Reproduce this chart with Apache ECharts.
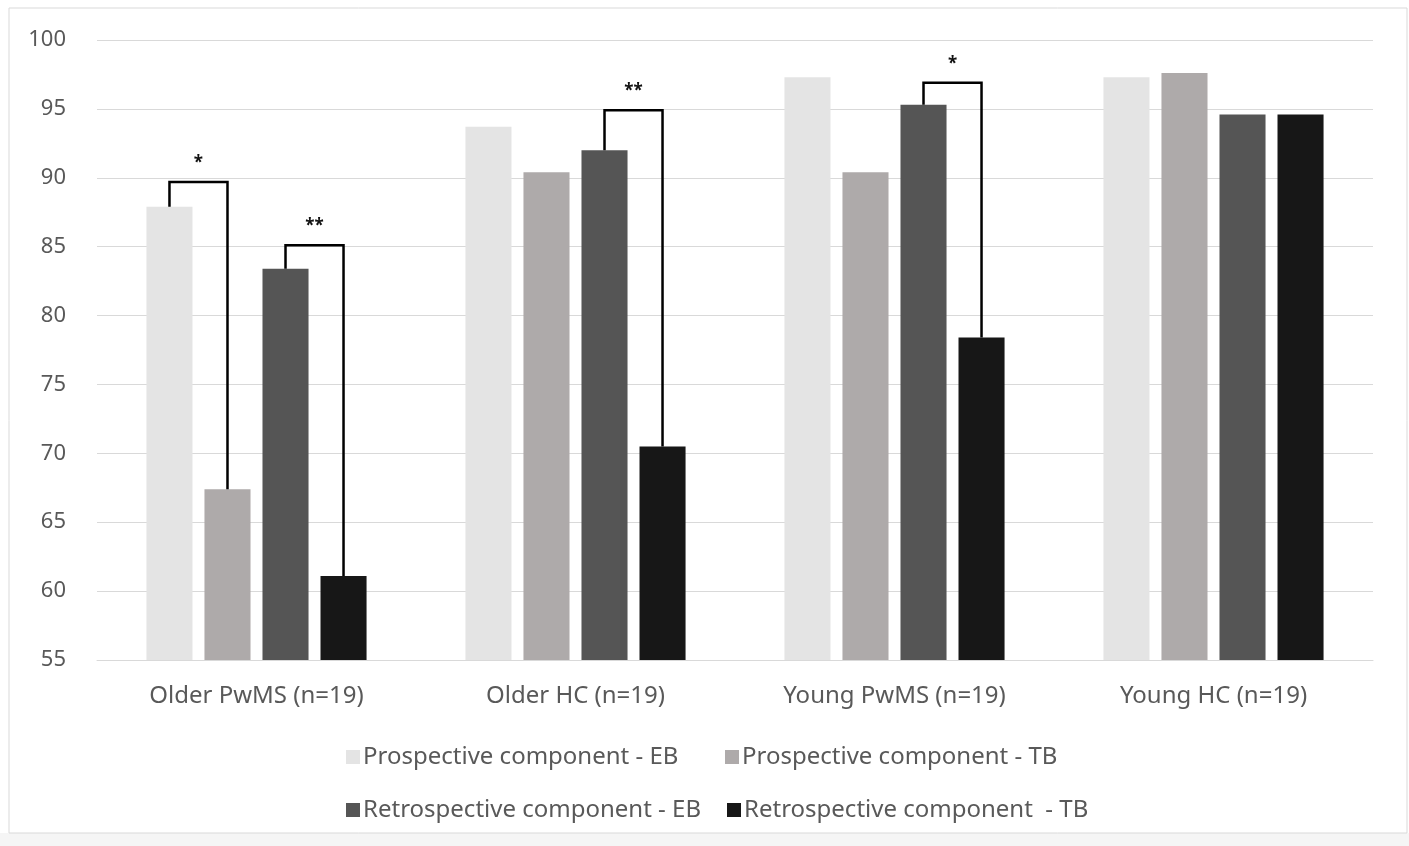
<!DOCTYPE html>
<html><head><meta charset="utf-8">
<script src="https://cdn.jsdelivr.net/npm/echarts@6/dist/echarts.min.js"></script>
<style>html,body{margin:0;padding:0;background:#fff;}#c{width:1409px;height:846px;}</style>
</head><body><div id="c"></div>
<script>
const categories = ['Older PwMS (n=19)', 'Older HC (n=19)', 'Young PwMS (n=19)', 'Young HC (n=19)'];
const seriesNames = ['Prospective component - EB', 'Prospective component - TB', 'Retrospective component - EB', 'Retrospective component  - TB'];
const prospectiveEB = [87.9, 93.7, 97.3, 97.3];
const prospectiveTB = [67.4, 90.4, 90.4, 97.6];
const retrospectiveEB = [83.4, 92.0, 95.3, 94.6];
const retrospectiveTB = [61.1, 70.5, 78.4, 94.6];
const yTicks = [55, 60, 65, 70, 75, 80, 85, 90, 95, 100];
// significance brackets: category, compared series, bracket height, mark
const bracketCat = [0, 0, 1, 2];
const bracketFrom = [0, 2, 2, 2];
const bracketTo = [1, 3, 3, 3];
const bracketTop = [89.7, 85.1, 94.9, 96.9];
const bracketMark = ['*', '**', '**', '*'];

const values = [prospectiveEB, prospectiveTB, retrospectiveEB, retrospectiveTB];
const colors = ['#e4e4e4', '#aeaaaa', '#555555', '#171717'];
const FONT = '"Noto Sans"';
const CAT_GAP = 0.31, BAR_GAP = 0.26, N = 4;

const chart = echarts.init(document.getElementById('c'));
const barSeries = seriesNames.map((n, i) => ({
  name: n, type: 'bar', data: values[i],
  barCategoryGap: (CAT_GAP * 100) + '%', barGap: (BAR_GAP * 100) + '%',
  itemStyle: { color: colors[i] }, z: 2
}));

function barX(center, band, i) {
  const w = band * (1 - CAT_GAP) / (N + (N - 1) * BAR_GAP);
  const total = N * w + (N - 1) * BAR_GAP * w;
  return center - total / 2 + i * w * (1 + BAR_GAP) + w / 2;
}

const bracketSeries = {
  type: 'custom', z: 5, silent: true,
  data: bracketCat.map((c, i) => [c, bracketTop[i]]),
  encode: { x: 0, y: 1 },
  renderItem: function (params, api) {
    const k = params.dataIndex;
    const c = bracketCat[k];
    const center = api.coord([c, 55])[0];
    const band = api.size([1, 0])[0];
    const x1 = barX(center, band, bracketFrom[k]);
    const x2 = barX(center, band, bracketTo[k]);
    const y1 = api.coord([c, values[bracketFrom[k]][c]])[1];
    const y2 = api.coord([c, values[bracketTo[k]][c]])[1];
    const yt = api.coord([c, bracketTop[k]])[1];
    return {
      type: 'group',
      children: [
        { type: 'polyline', shape: { points: [[x1, y1], [x1, yt], [x2, yt], [x2, y2]] },
          style: { stroke: '#000', lineWidth: 2.5, fill: null } },
        { type: 'text', style: { text: bracketMark[k], x: (x1 + x2) / 2, y: yt - 19,
          align: 'center', verticalAlign: 'middle', fill: '#111', font: 'bold 17px ' + FONT } }
      ]
    };
  }
};

const legendPos = [[341, 740], [720, 740], [341, 793], [722, 793]];
const legends = seriesNames.map((n, i) => ({
  data: [n], left: legendPos[i][0], top: legendPos[i][1],
  itemWidth: 14, itemHeight: 14, itemGap: 0,
  icon: 'rect', selectedMode: false,
  textStyle: { fontFamily: FONT, fontSize: 24, color: '#595959', padding: [0, 0, 0, -2] }
}));

chart.setOption({
  animation: false,
  backgroundColor: '#fff',
  graphic: [
    { type: 'rect', shape: { x: 0, y: 833, width: 1409, height: 13 }, style: { fill: '#f5f5f5' }, z: -10 },
    { type: 'rect', shape: { x: 9, y: 8, width: 1398, height: 825 }, style: { fill: null, stroke: '#d9d9d9', lineWidth: 1 }, z: -9 }
  ],
  grid: { left: 97, right: 36, top: 40, bottom: 186 },
  legend: legends,
  xAxis: {
    type: 'category', data: categories,
    axisLine: { lineStyle: { color: '#d9d9d9', width: 1 } },
    axisTick: { show: false },
    axisLabel: { fontFamily: FONT, fontSize: 24, color: '#595959', margin: 24 }
  },
  yAxis: {
    type: 'value', min: yTicks[0], max: yTicks[yTicks.length - 1], interval: 5,
    axisLine: { show: false }, axisTick: { show: false },
    splitLine: { lineStyle: { color: '#d9d9d9', width: 1 } },
    axisLabel: { fontFamily: FONT, fontSize: 22, color: '#595959', margin: 31 }
  },
  series: barSeries.concat([bracketSeries])
});
</script></body></html>
